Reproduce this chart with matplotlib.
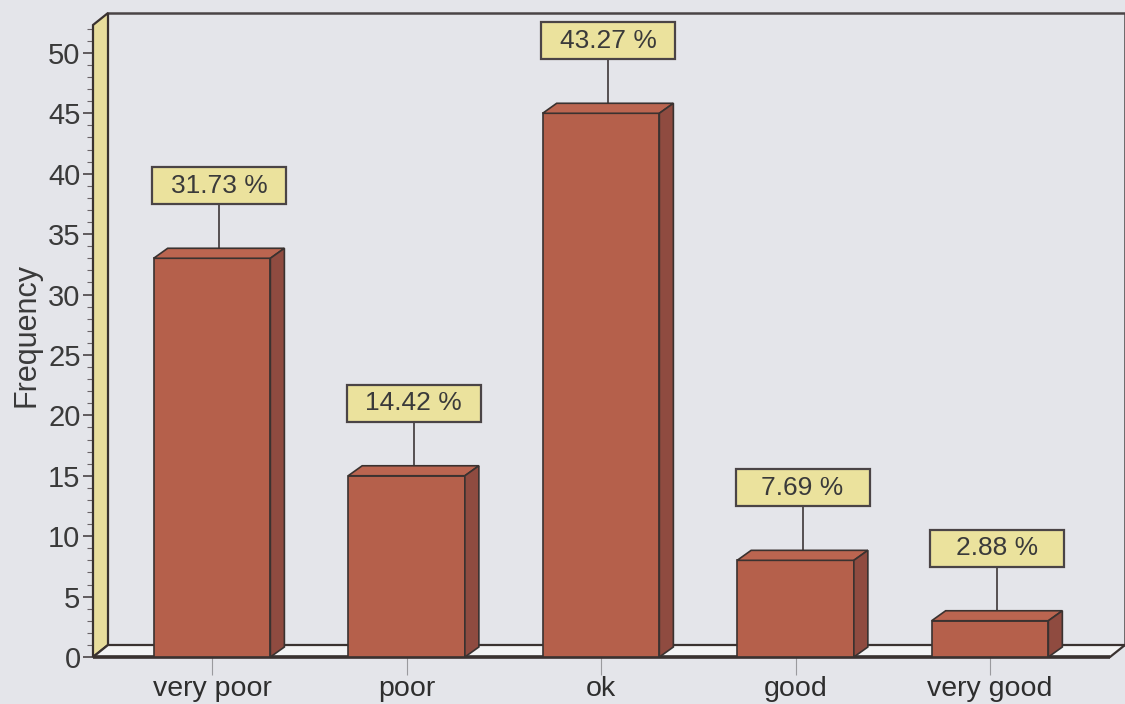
import matplotlib
matplotlib.use("Agg")
import matplotlib.pyplot as plt
from matplotlib.patches import Polygon, Rectangle

categories = ["very poor", "poor", "ok", "good", "very good"]
frequency = [33, 15, 45, 8, 3]
percent_labels = ["31.73 %", "14.42 %", "43.27 %", "7.69 %", "2.88 %"]
y_ticks = [0, 5, 10, 15, 20, 25, 30, 35, 40, 45, 50]

plt.rcParams['font.family'] = ['Liberation Sans', 'DejaVu Sans']

W, H = 1125, 704
fig = plt.figure(figsize=(W / 100, H / 100), dpi=100)
bg = "#e4e5ea"
fig.patch.set_facecolor(bg)

ax_left, ax_right = 93, 1110
ax_bottom, ax_top = 657, 13
ax = fig.add_axes([ax_left / W, (H - ax_bottom) / H, (ax_right - ax_left) / W, (ax_bottom - ax_top) / H])
ax.set_facecolor("none")
x0, x1 = -0.612, 4.617
y0, y1 = 0, 53.3
ax.set_xlim(x0, x1)
ax.set_ylim(y0, y1)
for s in ax.spines.values():
    s.set_visible(False)

pxx = (ax_right - ax_left) / (x1 - x0)
pxy = (ax_bottom - ax_top) / (y1 - y0)
DX, DY = 15 / pxx, 12 / pxy
BDX, BDY = 14 / pxx, 10 / pxy
edge = "#3a3230"

# back wall outline
xr = x1 + DX
ax.plot([x0 + DX, xr, xr], [y1, y1, DY], color="#4a4446", lw=1.8, clip_on=False, zorder=1)

# yellow side wall
wall = Polygon([(x0, 0), (x0, y1 - DY), (x0 + DX, y1), (x0 + DX, DY)], closed=True,
               facecolor="#e8dd9c", edgecolor=edge, lw=1.6, clip_on=False, zorder=2)
ax.add_patch(wall)

# floor
floor = Polygon([(x0, 0), (x1, 0), (x1 + DX, DY), (x0 + DX, DY)], closed=True,
                facecolor="#f3f3f4", edgecolor=edge, lw=1.6, clip_on=False, zorder=2)
ax.add_patch(floor)
ax.plot([x0, x1], [0, 0], color=edge, lw=2.6, clip_on=False, zorder=3, solid_capstyle="butt")

# bars
xs = list(range(len(categories)))
bw = 0.6
front_c = "#b5604b"
side_c = "#8f4b40"
top_c = "#bb6550"
ax.bar(xs, frequency, width=bw, color=front_c, edgecolor=edge, linewidth=1.2, zorder=5)
for i, v in zip(xs, frequency):
    l, r = i - bw / 2, i + bw / 2
    ax.add_patch(Polygon([(l, v), (r, v), (r + BDX, v + BDY), (l + BDX, v + BDY)], closed=True,
                         facecolor=top_c, edgecolor=edge, lw=1.2, zorder=5, clip_on=False))
    ax.add_patch(Polygon([(r, 0), (r + BDX, BDY), (r + BDX, v + BDY), (r, v)], closed=True,
                         facecolor=side_c, edgecolor=edge, lw=1.2, zorder=5, clip_on=False))

# labels
bw_box, bh_box = 134 / pxx, 37 / pxy
for i, v, lab in zip(xs, frequency, percent_labels):
    cx = i + BDX / 2
    cy = v + 6.0
    ax.plot([cx, cx], [v + BDY, cy - bh_box / 2], color="#4a4446", lw=1.3, zorder=4, clip_on=False)
    ax.add_patch(Rectangle((cx - bw_box / 2, cy - bh_box / 2), bw_box, bh_box,
                           facecolor="#ebe29d", edgecolor="#4a4446", lw=1.6, zorder=6, clip_on=False))
    ax.text(cx, cy, lab, ha="center", va="center", fontsize=19, color="#3a3a3a", zorder=7)

# axes ticks
ax.set_yticks(y_ticks)
ax.set_yticks(range(0, 53), minor=True)
ax.tick_params(axis="y", which="major", length=7, width=1.2, color="#4a4446",
               labelsize=21, labelcolor="#3a3a3a", pad=2)
ax.tick_params(axis="y", which="minor", length=4, width=0.8, color="#6a6468")
ax.set_xticks(xs)
ax.set_xticklabels(categories)
ax.tick_params(axis="x", which="major", length=13, width=0.8, color="#9a9a9e",
               labelsize=20.5, labelcolor="#2e2e2e", pad=1)
ax.set_ylabel("Frequency", fontsize=22, color="#3a3a3a", labelpad=5)

fig.savefig("out.png", dpi=100, facecolor=bg)
